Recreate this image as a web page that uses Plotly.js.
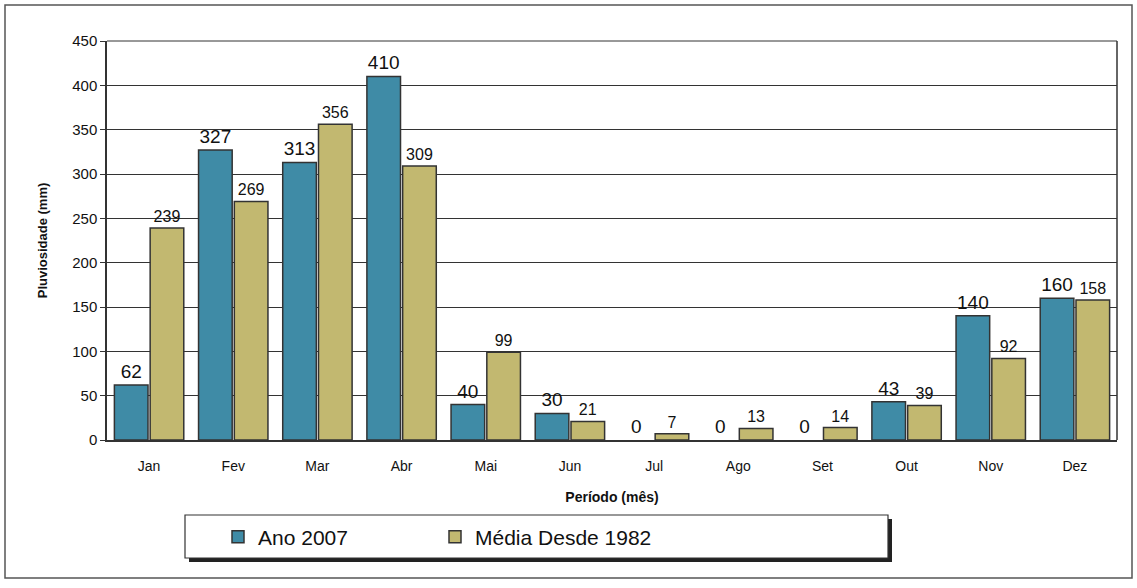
<!DOCTYPE html>
<html><head><meta charset="utf-8">
<script src="https://cdn.plot.ly/plotly-3.0.1.min.js"></script>
<style>html,body{margin:0;padding:0;background:#fff}#chart{width:1137px;height:588px}</style>
</head><body><div id="chart"></div>
<script>
const months = ["Jan","Fev","Mar","Abr","Mai","Jun","Jul","Ago","Set","Out","Nov","Dez"];
const ano2007 = [62,327,313,410,40,30,0,0,0,43,140,160];
const media1982 = [239,269,356,309,99,21,7,13,14,39,92,158];
const seriesNames = ["Ano 2007","Média Desde 1982"];

const W=1137,H=588,L=107,R=20,T=41,B=148;
const pw=W-L-R, ph=H-T-B;
const px=x=>(x-L)/pw, py=y=>(H-B-y)/ph;
const edge=v=>v>0?1.5:0;

const traces=[
 {type:"bar",name:seriesNames[0],x:months,y:ano2007,text:ano2007.map(String),textposition:"outside",
  constraintext:"none",cliponaxis:false,textfont:{family:"Liberation Sans, Arial",size:19,color:"#111"},
  marker:{color:"#3f8ba6",line:{color:"#333",width:ano2007.map(edge)}}},
 {type:"bar",name:seriesNames[1],x:months,y:media1982,text:media1982.map(String),textposition:"outside",
  constraintext:"none",cliponaxis:false,textfont:{family:"Liberation Sans, Arial",size:16,color:"#111"},
  marker:{color:"#c2b870",line:{color:"#333",width:media1982.map(edge)}}}
];

const layout={
 width:W,height:H,margin:{l:L,r:R,t:T,b:B},
 paper_bgcolor:"#fff",plot_bgcolor:"#fff",
 font:{family:"Liberation Sans, Arial",color:"#111"},
 barmode:"group",bargap:0.15,bargroupgap:0.06,
 showlegend:true,
 legend:{orientation:"h",x:px(218),y:py(537),xanchor:"left",yanchor:"middle",
  bgcolor:"rgba(0,0,0,0)",font:{size:21,color:"#111"},entrywidth:172,entrywidthmode:"pixels"},
 xaxis:{showgrid:false,showline:true,linecolor:"#333",linewidth:1.5,ticks:"",
  ticklabelstandoff:12,tickfont:{size:14},
  title:{text:"<b>Período (mês)</b>",font:{size:14},standoff:20}},
 yaxis:{range:[0,450],dtick:50,showgrid:true,gridcolor:"#333",gridwidth:1,showline:true,linecolor:"#333",
  linewidth:1.5,ticks:"outside",ticklen:5,tickcolor:"#333",tickfont:{size:15},zeroline:false,
  title:{text:"<b>Pluviosidade (mm)</b>",font:{size:13},standoff:22}},
 shapes:[
  {type:"rect",xref:"paper",yref:"paper",x0:px(5),x1:px(1132),y0:py(578),y1:py(5),line:{color:"#555",width:1.5},layer:"below"},
  {type:"rect",xref:"paper",yref:"paper",x0:px(189),x1:px(892),y0:py(562),y1:py(519),line:{width:0},fillcolor:"#222",layer:"below"},
  {type:"rect",xref:"paper",yref:"paper",x0:px(185),x1:px(888),y0:py(558),y1:py(515),line:{color:"#333",width:1.2},fillcolor:"#fff",layer:"below"},
  {type:"line",xref:"paper",yref:"paper",x0:1,x1:1,y0:0,y1:1,line:{color:"#333",width:1.5}},
  {type:"line",xref:"paper",yref:"paper",x0:0,x1:1,y0:1,y1:1,line:{color:"#333",width:1}}
 ]
};
Plotly.newPlot("chart",traces,layout,{displayModeBar:false});
</script></body></html>
